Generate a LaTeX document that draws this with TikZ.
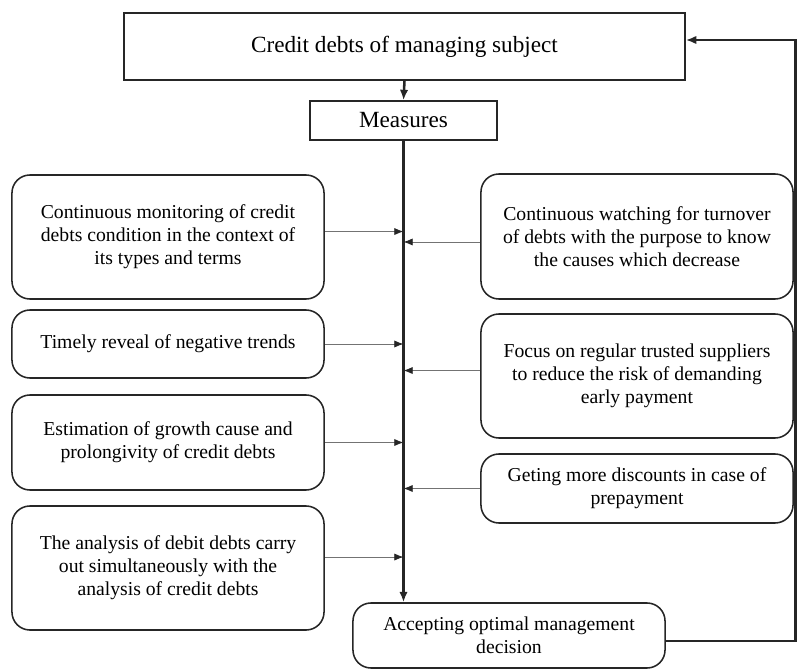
\documentclass[tikz,border=0pt]{standalone}
\usepackage{fontspec}
\setmainfont{Liberation Serif}
\usetikzlibrary{arrows.meta}
\begin{document}
\begin{tikzpicture}[x=0.025cm,y=-0.025cm,
  box/.style={draw,black!85,text=black,line width=1.1pt,align=center,inner sep=2pt,font=\fontsize{14}{16.3}\selectfont},
  rbox/.style={box,rounded corners=0.45cm,minimum width=7.8cm},
  main/.style={black!85,line width=1.8pt,-{Latex[length=2.6mm,width=2.1mm]}},
  side/.style={black!55,line width=0.6pt,-{Latex[length=2.3mm,width=1.8mm,color=black!85]}}]
\useasboundingbox (0,0) rectangle (797,670);
\node[box,minimum width=14.025cm,minimum height=1.675cm,font=\fontsize{16.5}{19}\selectfont] (subj) at (404.5,46.5) {Credit debts of managing subject};
\node[box,minimum width=4.675cm,minimum height=0.975cm,font=\fontsize{16.5}{19}\selectfont] (meas) at (403.5,120.5) {Measures};
\node[rbox,minimum height=3.1cm] (l1) at (168,237) {Continuous monitoring of credit\\debts condition in the context of\\its types and terms};
\node[rbox,minimum height=1.7cm] (l2) at (168,344) {Timely reveal of negative trends};
\node[rbox,minimum height=2.375cm] (l3) at (168,442.5) {Estimation of growth cause and\\prolongivity of credit debts};
\node[rbox,minimum height=3.1cm] (l4) at (168,568) {The analysis of debit debts carry\\out simultaneously with the\\analysis of credit debts};
\node[rbox,minimum height=3.125cm] (r1) at (637,236.5) {Continuous watching for turnover\\of debts with the purpose to know\\the causes which decrease};
\node[rbox,minimum height=3.1cm] (r2) at (637,376) {Focus on regular trusted suppliers\\to reduce the risk of demanding\\early payment};
\node[rbox,minimum height=1.725cm] (r3) at (637,488.5) {Geting more discounts in case of\\prepayment};
\node[rbox,minimum height=1.625cm] (dec) at (509,635.5) {Accepting optimal management\\decision};
\coordinate (fb) at (795.5,40);
\draw[main] (subj.south) -- (meas.north);
\draw[main] (meas.south) -- (meas.south |- dec.north);
\draw[side] (l1.2) -- (l1.2 -| meas.south);
\draw[side] (l2.east) -- (l2.east -| meas.south);
\draw[side] (l3.east) -- (l3.east -| meas.south);
\draw[side] (l4.4) -- (l4.4 -| meas.south);
\draw[side] (r1.182) -- (r1.182 -| meas.south);
\draw[side] (r2.178.5) -- (r2.178.5 -| meas.south);
\draw[side] (r3.west) -- (r3.west -| meas.south);
\draw[main] (dec.358.4) -| (fb) -- (subj.east |- fb);
\end{tikzpicture}
\end{document}
